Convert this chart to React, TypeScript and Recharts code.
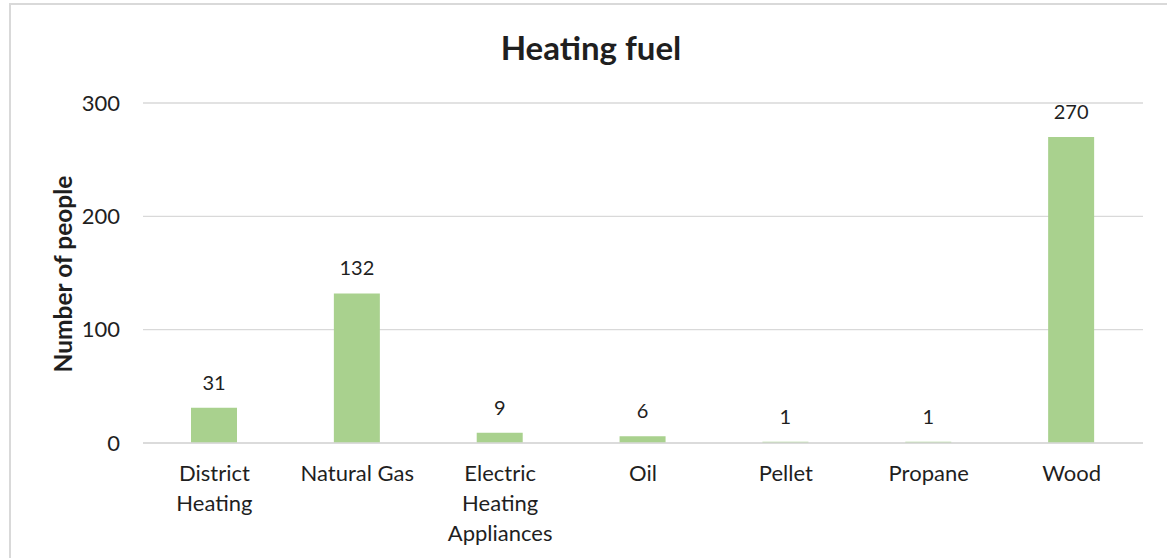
import React from "react";
import { BarChart, Bar, XAxis, YAxis, CartesianGrid, LabelList, Text } from "recharts";

const categories = [
  "District Heating",
  "Natural Gas",
  "Electric Heating Appliances",
  "Oil",
  "Pellet",
  "Propane",
  "Wood",
];
const people = [31, 132, 9, 6, 1, 1, 270];
const yTicks = [0, 100, 200, 300];

const data = categories.map((name, i) => ({ name, value: people[i] }));

const FONT = "Lato, 'Open Sans', sans-serif";
const INK = "#1f1f1f";

const CategoryTick = (props: any) => {
  const { x, y, payload } = props;
  return (
    <Text
      x={x}
      y={y + 22}
      width={110}
      textAnchor="middle"
      verticalAnchor="start"
      lineHeight={30}
      fill={INK}
      style={{ fontFamily: FONT, fontSize: 22 }}
    >
      {payload.value}
    </Text>
  );
};

export default function App() {
  return (
    <div
      style={{
        position: "absolute",
        left: 0,
        top: 0,
        width: 1167,
        height: 558,
        overflow: "hidden",
        background: "#fff",
        fontFamily: FONT,
      }}
    >
      {/* chart frame, runs off the right and bottom edge */}
      <div
        style={{
          position: "absolute",
          left: 9,
          top: 3,
          width: 1200,
          height: 600,
          border: "2px solid #d9d9d9",
        }}
      />
      <div
        style={{
          position: "absolute",
          left: 391,
          width: 400,
          top: 27,
          textAlign: "center",
          fontSize: 33,
          fontWeight: 700,
          lineHeight: "40px",
          color: INK,
        }}
      >
        Heating fuel
      </div>
      <div
        style={{
          position: "absolute",
          left: 63 - 150,
          top: 274 - 15,
          width: 300,
          height: 30,
          lineHeight: "30px",
          textAlign: "center",
          transform: "rotate(-90deg)",
          fontSize: 24.5,
          fontWeight: 700,
          color: INK,
        }}
      >
        Number of people
      </div>
      <div style={{ position: "absolute", left: 0, top: 0 }}>
        <BarChart
          width={1167}
          height={558}
          data={data}
          margin={{ top: 103, right: 24, bottom: 0, left: 0 }}
          barSize={46}
        >
          <CartesianGrid vertical={false} stroke="#d9d9d9" strokeWidth={1.3} />
          <XAxis
            dataKey="name"
            height={115}
            interval={0}
            axisLine={{ stroke: "#d9d9d9", strokeWidth: 1.3 }}
            tickLine={false}
            tickSize={0}
            tickMargin={0}
            tick={<CategoryTick />}
          />
          <YAxis
            width={143}
            domain={[0, 300]}
            ticks={yTicks}
            axisLine={false}
            tickLine={false}
            tickSize={0}
            tickMargin={23}
            tick={{ fill: INK, fontSize: 22, fontFamily: FONT }}
          />
          <Bar dataKey="value" fill="#a9d18e" isAnimationActive={false}>
            <LabelList
              dataKey="value"
              position="top"
              offset={18}
              fill={INK}
              style={{ fontFamily: FONT, fontSize: 20 }}
            />
          </Bar>
        </BarChart>
      </div>
    </div>
  );
}
